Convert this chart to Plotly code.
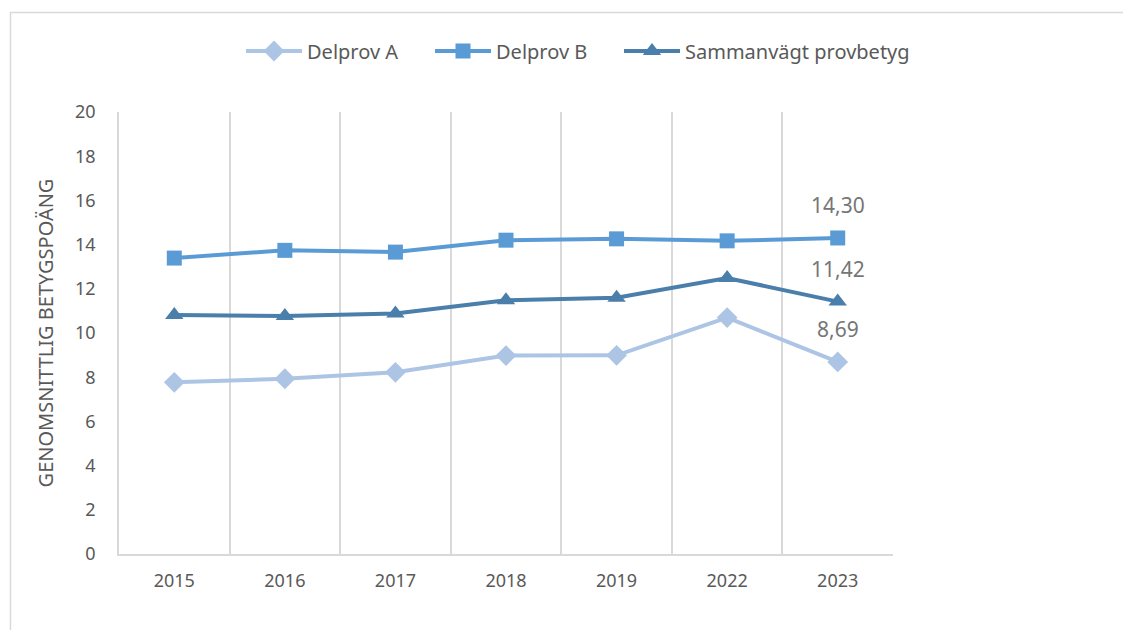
import plotly.graph_objects as go

years = ["2015", "2016", "2017", "2018", "2019", "2022", "2023"]
delprov_a = [7.77, 7.93, 8.22, 8.98, 8.99, 10.70, 8.69]
delprov_b = [13.39, 13.74, 13.66, 14.20, 14.26, 14.17, 14.30]
sammanvagt = [10.82, 10.77, 10.88, 11.48, 11.60, 12.49, 11.42]

series = [
    ("Delprov A", delprov_a, "#adc5e4", "diamond", 16, 118),
    ("Delprov B", delprov_b, "#5b9bd5", "square", 15, 118),
    ("Sammanvägt provbetyg", sammanvagt, "#4a7eab", "triangle-up", 16, 240),
]

# page body has an 8px margin; figure coordinates below are page px - 8
OFF = 8
W, H = 1131 - OFF, 630 - OFF
L, R, T, B = 119 - OFF, W - (893 - OFF), 112 - OFF, H - (554 - OFF)
pw, ph = W - L - R, H - T - B

fig = go.Figure()
for name, vals, col, sym, sz, lw in series:
    fig.add_trace(go.Scatter(
        x=years, y=vals, name=name, mode="lines+markers",
        line=dict(color=col, width=4),
        marker=dict(symbol=sym, size=sz, color=col),
        legendwidth=lw,
    ))

# data labels for the last point
last_idx = len(years) - 1
annotations = []
for name, vals, col, sym, sz, lw in series:
    annotations.append(dict(
        x=last_idx, y=vals[-1], xref="x", yref="y",
        text=f"{vals[-1]:.2f}".replace(".", ","), showarrow=False,
        xanchor="center", yanchor="middle",
        yshift=33, font=dict(size=21, color="#767676", family="Noto Sans"),
    ))


def px2paper_x(px):
    return (px - OFF - L) / pw


def px2paper_y(py):
    return (H - B - (py - OFF)) / ph


# outer chart border (top and left)
shapes = [
    dict(type="line", xref="paper", yref="paper",
         x0=px2paper_x(10), x1=px2paper_x(1140), y0=px2paper_y(12.5), y1=px2paper_y(12.5),
         line=dict(color="#d9d9d9", width=1.5)),
    dict(type="line", xref="paper", yref="paper",
         x0=px2paper_x(10.5), x1=px2paper_x(10.5), y0=px2paper_y(12), y1=px2paper_y(640),
         line=dict(color="#d9d9d9", width=1.5)),
]

fig.update_layout(
    width=W, height=H,
    margin=dict(l=L, r=R, t=T, b=B),
    paper_bgcolor="white", plot_bgcolor="white",
    font=dict(family="Noto Sans", color="#595959"),
    legend=dict(orientation="h", x=px2paper_x(241), xanchor="left",
                y=px2paper_y(51), yanchor="middle",
                font=dict(size=20, color="#595959"), itemwidth=56,
                entrywidthmode="pixels",
                tracegroupgap=0),
    annotations=annotations,
    shapes=shapes,
    xaxis=dict(type="category", range=[-0.5, 6.5], tickson="boundaries",
               showgrid=True, gridcolor="#d9d9d9", gridwidth=1.5,
               showline=True, linecolor="#d9d9d9", linewidth=1.5,
               ticks="", ticklen=0, ticklabelstandoff=10,
               tickfont=dict(size=18, color="#595959", family="Noto Sans"),
               zeroline=False),
    yaxis=dict(range=[0, 20], dtick=2, showgrid=False,
               showline=True, linecolor="#d9d9d9", linewidth=1.5,
               ticks="", ticklabelstandoff=18,
               tickfont=dict(size=18, color="#595959", family="Noto Sans"),
               title=dict(text="GENOMSNITTLIG BETYGSPOÄNG", standoff=16,
                          font=dict(size=20, color="#595959", family="Noto Sans")),
               zeroline=False),
)

fig.write_html("out.html")
